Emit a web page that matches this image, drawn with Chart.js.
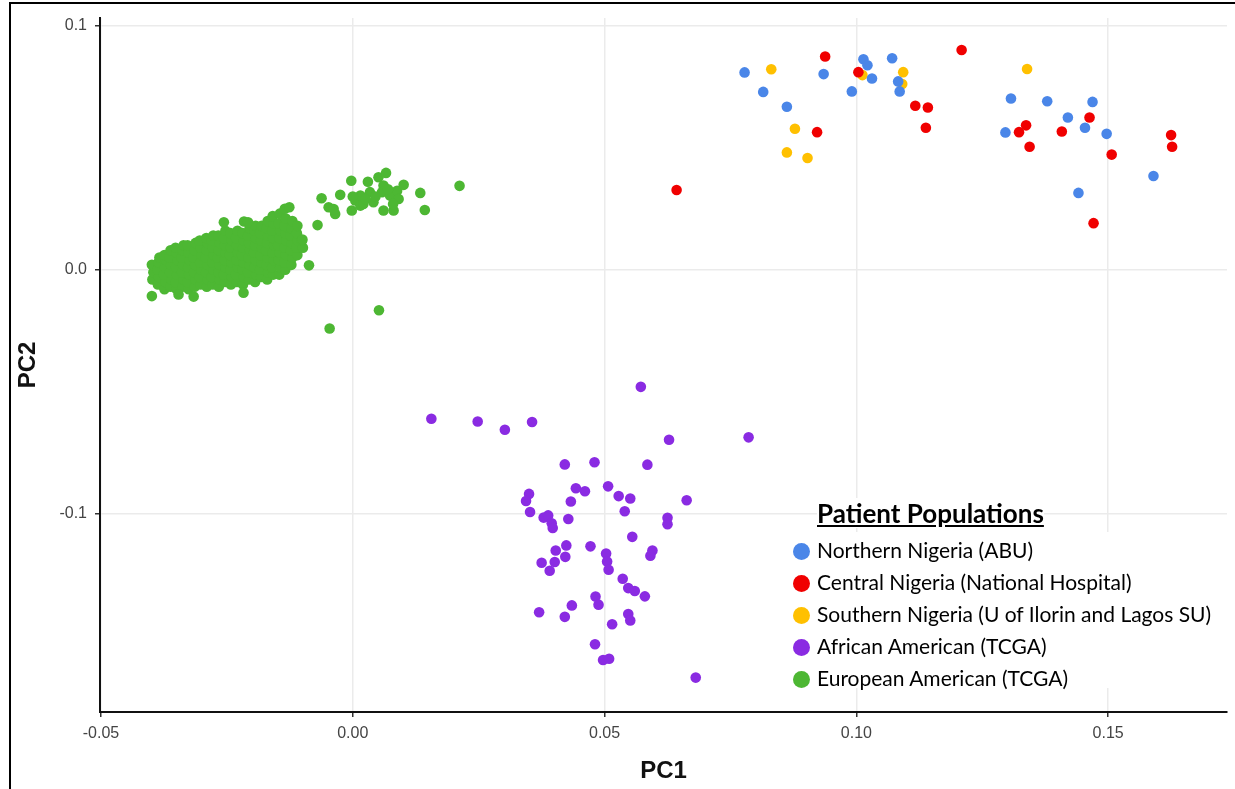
<!DOCTYPE html>
<html>
<head>
<meta charset="utf-8">
<script src="https://cdn.jsdelivr.net/npm/chart.js@4.4.1/dist/chart.umd.min.js"></script>
<style>
  body { margin: 0; background: #fff; }
  #wrap { position: relative; width: 1235px; height: 789px; overflow: hidden; }
  #frame { position: absolute; left: 9px; top: 2px; width: 1300px; height: 900px;
           border-left: 2px solid #000; border-top: 2px solid #000; pointer-events: none; }
  #legend { position: absolute; left: 785px; top: 498px; font-family: Lato, sans-serif; color: #000; }
  #legend .title { position: absolute; left: 32px; top: 0; font-size: 26px; font-weight: bold;
                   text-decoration: underline; background: #fff; white-space: nowrap; line-height: 30px; }
  #legend .items { position: absolute; left: 0; top: 34px; width: 440px; height: 156px; background: #fff; }
  #legend .item { position: absolute; left: 8px; font-size: 21px; white-space: nowrap; line-height: 24px; }
  #legend .dot { display: inline-block; width: 17px; height: 17px; border-radius: 50%;
                 vertical-align: -2px; margin-right: 7px; }
</style>
</head>
<body>
<div id="wrap">
  <canvas id="pca_chart" width="1235" height="789"></canvas>
  <div id="frame"></div>
  <div id="legend"></div>
</div>
<script>
var groupNames = ["Northern Nigeria (ABU)", "Central Nigeria (National Hospital)",
    "Southern Nigeria (U of Ilorin and Lagos SU)", "African American (TCGA)", "European American (TCGA)"]
var groupColors = ['rgb(74, 134, 232)', 'rgb(240, 0, 0)', 'rgb(255, 192, 0)', 'rgb(138, 43, 226)', 'rgb(77, 183, 51)']
var xTicks = [-0.05, 0.00, 0.05, 0.10, 0.15]
var yTicks = [-0.1, 0.0, 0.1]

var northern = [
    [0.0778, 0.0809], [0.0815, 0.0729], [0.0862, 0.0668], [0.0935, 0.0802], [0.0991, 0.0731],
    [0.1014, 0.0863], [0.1022, 0.0838], [0.1031, 0.0784], [0.1071, 0.0867], [0.1083, 0.0772],
    [0.1086, 0.0731], [0.1307, 0.0702], [0.1296, 0.0563], [0.1379, 0.0691], [0.1420, 0.0624],
    [0.1454, 0.0582], [0.1469, 0.0688], [0.1497, 0.0557], [0.1441, 0.0315], [0.1590, 0.0384]
]
var central = [
    [0.0938, 0.0874], [0.1004, 0.0810], [0.0922, 0.0564], [0.1209, 0.0901], [0.1117, 0.0672],
    [0.1142, 0.0665], [0.1138, 0.0582], [0.1337, 0.0592], [0.1323, 0.0564], [0.1344, 0.0504],
    [0.1408, 0.0567], [0.1463, 0.0624], [0.1507, 0.0472], [0.1625, 0.0552], [0.1627, 0.0504],
    [0.1471, 0.0191], [0.0643, 0.0327]
]
var southern = [
    [0.0831, 0.0822], [0.0878, 0.0578], [0.0862, 0.0481], [0.0903, 0.0458], [0.1012, 0.0798],
    [0.1093, 0.0810], [0.1091, 0.0761], [0.1339, 0.0823]
]
var africanAmerican = [
    [0.0156, -0.0611], [0.0248, -0.0622], [0.0302, -0.0656], [0.0356, -0.0624], [0.0572, -0.0480],
    [0.0628, -0.0697], [0.0786, -0.0687], [0.0421, -0.0798], [0.0480, -0.0789], [0.0585, -0.0799],
    [0.0443, -0.0896], [0.0461, -0.0908], [0.0507, -0.0888], [0.0528, -0.0928], [0.0551, -0.0938],
    [0.0663, -0.0945], [0.0350, -0.0919], [0.0344, -0.0948], [0.0352, -0.0993], [0.0433, -0.0950],
    [0.0540, -0.0990], [0.0379, -0.1016], [0.0388, -0.1007], [0.0395, -0.1039], [0.0397, -0.1059],
    [0.0428, -0.1022], [0.0625, -0.1017], [0.0625, -0.1043], [0.0555, -0.1095], [0.0424, -0.1130],
    [0.0472, -0.1134], [0.0403, -0.1151], [0.0422, -0.1177], [0.0503, -0.1163], [0.0595, -0.1151],
    [0.0591, -0.1172], [0.0375, -0.1201], [0.0401, -0.1198], [0.0505, -0.1196], [0.0391, -0.1234],
    [0.0508, -0.1230], [0.0536, -0.1267], [0.0547, -0.1305], [0.0560, -0.1317], [0.0580, -0.1339],
    [0.0482, -0.1340], [0.0488, -0.1373], [0.0435, -0.1376], [0.0370, -0.1404], [0.0421, -0.1423],
    [0.0547, -0.1411], [0.0551, -0.1438], [0.0515, -0.1453], [0.0481, -0.1535], [0.0497, -0.1600],
    [0.0509, -0.1595], [0.0681, -0.1672]
]
var europeanAmerican = [
    [-0.0398, -0.0040], [-0.0396, -0.0010], [-0.0399, 0.0020],
    [-0.0387, -0.0060], [-0.0385, -0.0030], [-0.0388, 0.0000], [-0.0386, 0.0030], [-0.0384, 0.0050],
    [-0.0374, -0.0080], [-0.0372, -0.0050], [-0.0375, -0.0020], [-0.0373, 0.0010], [-0.0371, 0.0040], [-0.0374, 0.0060],
    [-0.0362, -0.0070], [-0.0360, -0.0040], [-0.0363, -0.0010], [-0.0361, 0.0020], [-0.0364, 0.0050], [-0.0362, 0.0080],
    [-0.0350, -0.0080], [-0.0352, -0.0050], [-0.0349, -0.0020], [-0.0351, 0.0010], [-0.0348, 0.0040], [-0.0350, 0.0070], [-0.0352, 0.0090],
    [-0.0338, -0.0070], [-0.0336, -0.0040], [-0.0339, -0.0010], [-0.0337, 0.0020], [-0.0340, 0.0050], [-0.0338, 0.0080], [-0.0336, 0.0100],
    [-0.0326, -0.0080], [-0.0328, -0.0050], [-0.0325, -0.0020], [-0.0327, 0.0010], [-0.0324, 0.0040], [-0.0326, 0.0070], [-0.0328, 0.0100],
    [-0.0314, -0.0070], [-0.0312, -0.0040], [-0.0315, -0.0010], [-0.0313, 0.0020], [-0.0316, 0.0050], [-0.0314, 0.0080], [-0.0312, 0.0110],
    [-0.0302, -0.0060], [-0.0304, -0.0030], [-0.0301, 0.0000], [-0.0303, 0.0030], [-0.0300, 0.0060], [-0.0302, 0.0090], [-0.0304, 0.0120],
    [-0.0290, -0.0070], [-0.0288, -0.0040], [-0.0291, -0.0010], [-0.0289, 0.0020], [-0.0292, 0.0050], [-0.0290, 0.0080], [-0.0288, 0.0110], [-0.0291, 0.0130],
    [-0.0278, -0.0060], [-0.0280, -0.0030], [-0.0277, 0.0000], [-0.0279, 0.0030], [-0.0276, 0.0060], [-0.0278, 0.0090], [-0.0280, 0.0120], [-0.0277, 0.0140],
    [-0.0266, -0.0070], [-0.0264, -0.0040], [-0.0267, -0.0010], [-0.0265, 0.0020], [-0.0268, 0.0050], [-0.0266, 0.0080], [-0.0264, 0.0110], [-0.0267, 0.0140],
    [-0.0254, -0.0050], [-0.0256, -0.0020], [-0.0253, 0.0010], [-0.0255, 0.0040], [-0.0252, 0.0070], [-0.0254, 0.0100], [-0.0256, 0.0130], [-0.0253, 0.0160],
    [-0.0242, -0.0060], [-0.0240, -0.0030], [-0.0243, 0.0000], [-0.0241, 0.0030], [-0.0244, 0.0060], [-0.0242, 0.0090], [-0.0240, 0.0120], [-0.0243, 0.0150],
    [-0.0230, -0.0050], [-0.0232, -0.0020], [-0.0229, 0.0010], [-0.0231, 0.0040], [-0.0228, 0.0070], [-0.0230, 0.0100], [-0.0232, 0.0130], [-0.0229, 0.0160],
    [-0.0218, -0.0060], [-0.0216, -0.0030], [-0.0219, 0.0000], [-0.0217, 0.0030], [-0.0220, 0.0060], [-0.0218, 0.0090], [-0.0216, 0.0120], [-0.0219, 0.0150],
    [-0.0206, -0.0040], [-0.0208, -0.0010], [-0.0205, 0.0020], [-0.0207, 0.0050], [-0.0204, 0.0080], [-0.0206, 0.0110], [-0.0208, 0.0140], [-0.0205, 0.0170],
    [-0.0194, -0.0050], [-0.0192, -0.0020], [-0.0195, 0.0010], [-0.0193, 0.0040], [-0.0196, 0.0070], [-0.0194, 0.0100], [-0.0192, 0.0130], [-0.0195, 0.0160], [-0.0193, 0.0180],
    [-0.0182, -0.0030], [-0.0184, 0.0000], [-0.0181, 0.0030], [-0.0183, 0.0060], [-0.0180, 0.0090], [-0.0182, 0.0120], [-0.0184, 0.0150], [-0.0181, 0.0180],
    [-0.0170, -0.0040], [-0.0168, -0.0010], [-0.0171, 0.0020], [-0.0169, 0.0050], [-0.0172, 0.0080], [-0.0170, 0.0110], [-0.0168, 0.0140], [-0.0171, 0.0170], [-0.0169, 0.0200],
    [-0.0158, -0.0020], [-0.0160, 0.0010], [-0.0157, 0.0040], [-0.0159, 0.0070], [-0.0156, 0.0100], [-0.0158, 0.0130], [-0.0160, 0.0160], [-0.0157, 0.0190], [-0.0159, 0.0220],
    [-0.0146, -0.0020], [-0.0144, 0.0010], [-0.0147, 0.0040], [-0.0145, 0.0070], [-0.0148, 0.0100], [-0.0146, 0.0130], [-0.0144, 0.0160], [-0.0147, 0.0190], [-0.0145, 0.0230],
    [-0.0134, 0.0000], [-0.0136, 0.0030], [-0.0133, 0.0060], [-0.0135, 0.0090], [-0.0132, 0.0120], [-0.0134, 0.0150], [-0.0136, 0.0180], [-0.0133, 0.0210], [-0.0135, 0.0250],
    [-0.0122, 0.0020], [-0.0120, 0.0050], [-0.0123, 0.0080], [-0.0121, 0.0110], [-0.0124, 0.0140], [-0.0122, 0.0170], [-0.0120, 0.0200],
    [-0.0110, 0.0060], [-0.0112, 0.0090], [-0.0109, 0.0120], [-0.0111, 0.0150], [-0.0110, 0.0180],
    [-0.0099, 0.0090], [-0.0101, 0.0120],
    [-0.0399, -0.0108], [-0.0346, -0.0101], [-0.0316, -0.0110], [-0.0217, -0.0094], [-0.0046, -0.0241],
    [0.0052, -0.0166], [0.0212, 0.0344], [0.0134, 0.0315], [0.0143, 0.0245], [-0.0256, 0.0195],
    [-0.0216, 0.0198], [-0.0208, 0.0195], [-0.0126, 0.0256], [-0.0087, 0.0018], [-0.0100, 0.0124],
    [-0.0070, 0.0183], [-0.0062, 0.0293], [-0.0048, 0.0256], [-0.0035, 0.0229], [-0.0038, 0.0249],
    [-0.0025, 0.0307], [-0.0003, 0.0365], [-0.0002, 0.0243], [0.0005, 0.0284], [0.0015, 0.0304],
    [0.0015, 0.0263], [0.0021, 0.0270], [0.0030, 0.0361], [0.0034, 0.0318], [0.0041, 0.0277],
    [0.0051, 0.0379], [0.0066, 0.0397], [0.0061, 0.0345], [0.0058, 0.0318], [0.0061, 0.0243],
    [0.0081, 0.0243], [0.0074, 0.0304], [0.0088, 0.0324], [0.0101, 0.0348], [0.0091, 0.0290],
    [0.0000, 0.0300], [0.0025, 0.0290], [0.0045, 0.0300], [0.0070, 0.0330], [0.0080, 0.0270]
]

var groups = [northern, central, southern, africanAmerican, europeanAmerican]

var tickFont = { family: 'Liberation Sans', size: 16 }
var titleFont = { family: 'Liberation Sans', size: 24, weight: 'bold' }

var ctx = document.getElementById('pca_chart')

var pcaChart = new Chart(ctx, {
    type: 'scatter',
    data: {
        datasets: groups.map(function (pts, i) {
            return {
                label: groupNames[i],
                data: pts.map(function (p) { return { x: p[0], y: p[1] } }),
                backgroundColor: groupColors[i],
                borderWidth: 0,
                pointRadius: 5.3
            }
        })
    },
    options: {
        responsive: false,
        animation: false,
        layout: { padding: { top: 18, right: 8, left: 0, bottom: 0 } },
        plugins: { legend: { display: false }, tooltip: { enabled: false } },
        scales: {
            x: {
                type: 'linear',
                min: -0.0502,
                max: 0.1736,
                afterBuildTicks: function (s) { s.ticks = xTicks.map(function (v) { return { value: v } }) },
                afterFit: function (s) { s.height = 77 },
                grid: { color: '#ebebeb', lineWidth: 1.5, tickLength: 5, tickColor: '#333' },
                border: { color: '#111', width: 2 },
                ticks: {
                    padding: 7, font: tickFont, color: '#444', maxRotation: 0,
                    callback: function (v) { return v.toFixed(2) }
                },
                title: { display: true, text: 'PC1', font: titleFont, color: '#111', padding: { top: 0, bottom: 3 } }
            },
            y: {
                type: 'linear',
                min: -0.1813,
                max: 0.1032,
                afterBuildTicks: function (s) { s.ticks = yTicks.map(function (v) { return { value: v } }) },
                afterFit: function (s) { s.width = 100 },
                grid: { color: '#ebebeb', lineWidth: 1.5, tickLength: 5, tickColor: '#333' },
                border: { color: '#111', width: 2 },
                ticks: {
                    padding: 8, font: tickFont, color: '#444',
                    callback: function (v) { return v.toFixed(1) }
                },
                title: { display: true, text: 'PC2', font: titleFont, color: '#111', padding: { top: 14, bottom: 0 } }
            }
        }
    }
})

// legend box like the original figure
var legend = document.getElementById('legend')
var html = '<div class="title">Patient Populations</div><div class="items">'
groupNames.forEach(function (name, i) {
    html += '<div class="item" style="top:' + (6 + i * 32) + 'px"><span class="dot" style="background:' +
        groupColors[i] + '"></span>' + name + '</div>'
})
legend.innerHTML = html + '</div>'
</script>
</body>
</html>
